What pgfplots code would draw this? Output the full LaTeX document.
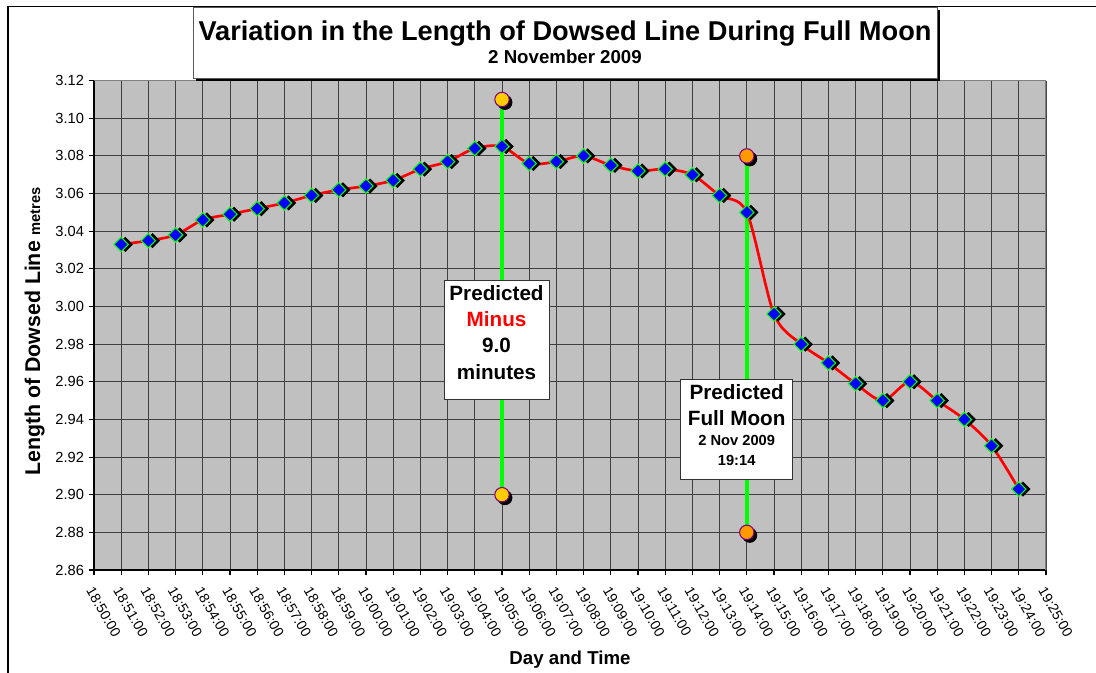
\documentclass[border=0pt]{standalone}
\usepackage{pgfplots}
\pgfplotsset{compat=1.18}
\usepackage{fontspec}
\setmainfont{Liberation Sans}

\definecolor{plotgray}{HTML}{C0C0C0}
\definecolor{gridc}{HTML}{404040}
\definecolor{limec}{HTML}{00FF00}
\definecolor{yellowc}{HTML}{FFCC00}
\definecolor{orangec}{HTML}{FF9900}
\definecolor{purplec}{HTML}{800080}

\begin{document}
\begin{tikzpicture}
\useasboundingbox (-70.5pt,-77.25pt) rectangle (751.5pt,427.5pt);

% chart area border (left and top only, as cropped)
\draw[line width=1.1pt] (-64.5pt,-80pt) -- (-64.5pt,422.6pt) -- (760pt,422.6pt);

\begin{axis}[
  at={(0,0)}, anchor=south west,
  scale only axis,
  width=714pt, height=367pt,
  xmin=0, xmax=35,
  ymin=2.86, ymax=3.12,
  xtick={0,...,35},
  xticklabels={18:50:00,18:51:00,18:52:00,18:53:00,18:54:00,18:55:00,18:56:00,18:57:00,18:58:00,18:59:00,
    19:00:00,19:01:00,19:02:00,19:03:00,19:04:00,19:05:00,19:06:00,19:07:00,19:08:00,19:09:00,
    19:10:00,19:11:00,19:12:00,19:13:00,19:14:00,19:15:00,19:16:00,19:17:00,19:18:00,19:19:00,
    19:20:00,19:21:00,19:22:00,19:23:00,19:24:00,19:25:00},
  ytick={2.86,2.88,...,3.13},
  axis background/.style={fill=plotgray},
  axis x line*=bottom, axis y line*=left,
  axis line style={black, line width=0.8pt, -},
  tick align=outside,
  major tick length=4pt,
  tick style={black, line width=0.8pt},
  grid=major,
  major grid style={gridc, line width=0.75pt},
  /pgf/number format/assume math mode=true,
  yticklabel style={font=\fontsize{11}{13}\selectfont, /pgf/number format/.cd, fixed, fixed zerofill, precision=2},
  x tick label style={font=\fontsize{10.5}{12}\selectfont, xshift=1pt, yshift=-5pt, rotate=-60, anchor=north west, inner sep=2pt},
  xlabel={Day and Time},
  xlabel style={font=\bfseries\fontsize{14}{16}\selectfont, at={(rel axis cs:0.5,0)}, anchor=base, yshift=-71.25pt},
  ylabel={Length of Dowsed Line {\fontsize{11}{13}\selectfont metres}},
  ylabel style={font=\bfseries\fontsize{16}{18}\selectfont, at={(rel axis cs:-0.0567,0.4875)}, anchor=base},
]

% top and right border of the plot area
\draw[gray, line width=0.8pt] (rel axis cs:0,1) -- (rel axis cs:1,1) -- (rel axis cs:1,0);

% predicted times
\addplot[limec, line width=3pt, forget plot] coordinates {(15,3.11) (15,2.90)};
\addplot[limec, line width=3pt, forget plot] coordinates {(24,3.08) (24,2.88)};

% dowsed line length
\pgfplotstableread{
x y
1 3.033
2 3.035
3 3.038
4 3.046
5 3.049
6 3.052
7 3.055
8 3.059
9 3.062
10 3.064
11 3.067
12 3.073
13 3.077
14 3.084
15 3.085
16 3.076
17 3.077
18 3.080
19 3.075
20 3.072
21 3.073
22 3.070
23 3.059
24 3.050
25 2.996
26 2.980
27 2.970
28 2.959
29 2.950
30 2.960
31 2.950
32 2.940
33 2.926
34 2.903
}\dowsed

\addplot[red, line width=2pt, smooth, tension=0.5, no marks] table {\dowsed};
\addplot[only marks, mark=square*, mark size=3.8pt,
  mark options={rotate=45, black, xshift=2.2pt, yshift=-2.2pt}] table {\dowsed};
\addplot[only marks, mark=square*, mark size=3.8pt,
  mark options={rotate=45, fill=blue, draw=limec, line width=0.8pt}] table {\dowsed};

% end markers of the prediction lines
\addplot[only marks, mark=*, mark size=5.4pt,
  mark options={black, xshift=2.2pt, yshift=-2.2pt}] coordinates {(15,3.11) (15,2.90) (24,3.08) (24,2.88)};
\addplot[only marks, mark=*, mark size=5.4pt,
  mark options={fill=yellowc, draw=purplec, line width=0.8pt}] coordinates {(15,3.11) (15,2.90)};
\addplot[only marks, mark=*, mark size=5.4pt,
  mark options={fill=orangec, draw=purplec, line width=0.8pt}] coordinates {(24,3.08) (24,2.88)};
\end{axis}

% title box
\fill[black] (76.75pt,366.5pt) rectangle (634.75pt,419.75pt);
\filldraw[fill=white, draw=gray!70!black, line width=0.6pt] (74.25pt,369pt) rectangle (632.25pt,422.25pt);
\node[anchor=base, font=\bfseries\fontsize{20.4}{24}\selectfont] at (353.25pt,396.75pt)
  {Variation in the Length of Dowsed Line During Full Moon};
\node[anchor=base, font=\bfseries\fontsize{14}{16}\selectfont] at (353.25pt,379.5pt) {2 November 2009};

% annotation: predicted minus
\filldraw[fill=white, draw=black!80, line width=0.7pt] (262.5pt,217.5pt) rectangle (341.25pt,128.25pt);
\begin{scope}[every node/.style={anchor=base, font=\bfseries\fontsize{15.5}{18}\selectfont}]
\node at (301.9pt,202pt) {Predicted};
\node[text=red] at (301.9pt,182.5pt) {Minus};
\node at (301.9pt,162.75pt) {9.0};
\node at (301.9pt,142.5pt) {minutes};
\end{scope}

% annotation: predicted full moon
\filldraw[fill=white, draw=black!80, line width=0.7pt] (440pt,143.25pt) rectangle (524pt,68.25pt);
\begin{scope}[every node/.style={anchor=base, font=\bfseries\fontsize{15.5}{18}\selectfont}]
\node at (482pt,128pt) {Predicted};
\node at (482pt,108pt) {Full Moon};
\node[font=\bfseries\fontsize{11}{13}\selectfont] at (482pt,93pt) {2 Nov 2009};
\node[font=\bfseries\fontsize{11}{13}\selectfont] at (482pt,78pt) {19:14};
\end{scope}
\end{tikzpicture}
\end{document}
